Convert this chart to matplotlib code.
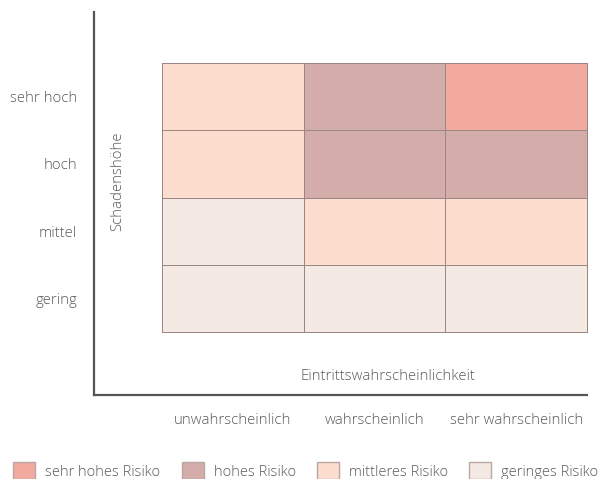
import numpy as np
import matplotlib.pyplot as plt
from matplotlib.colors import ListedColormap
from matplotlib.patches import Patch

plt.rcParams["font.family"] = ["Open Sans", "DejaVu Sans"]
plt.rcParams["font.weight"] = "light"

# risk categories (0 = gering ... 3 = sehr hoch)
risk_labels = ["geringes Risiko", "mittleres Risiko", "hohes Risiko", "sehr hohes Risiko"]
risk_colors = ["#F5E9E3", "#FCDDCE", "#D4ACAA", "#F2AA9F"]

prob_labels = ["unwahrscheinlich", "wahrscheinlich", "sehr wahrscheinlich"]
damage_labels = ["gering", "mittel", "hoch", "sehr hoch"]  # bottom -> top

# rows bottom -> top, columns = probability
risk_matrix = np.array([
    [0, 0, 0],
    [0, 1, 1],
    [1, 2, 2],
    [1, 2, 3],
])

W, H = 601, 479
fig = plt.figure(figsize=(W / 100, H / 100), dpi=100)
# axes frame in pixels: x 94..587, y 12..395
ax = fig.add_axes([94 / W, 1 - 395 / H, (587 - 94) / W, (395 - 12) / H])

cmap = ListedColormap(risk_colors)
mesh = ax.pcolormesh(np.arange(4), np.arange(5), risk_matrix, cmap=cmap,
                     vmin=-0.5, vmax=3.5, edgecolors="#9a8783", linewidth=0.7)
mesh.set_clip_on(False)

col_w = (587 - 162) / 3
row_h = (332 - 63) / 4
ax.set_xlim(-(162 - 94) / col_w, 3)
ax.set_ylim(-(395 - 332) / row_h, 4 + (63 - 12) / row_h)

for s in ["top", "right"]:
    ax.spines[s].set_visible(False)
for s in ["left", "bottom"]:
    ax.spines[s].set_color("#555555")
    ax.spines[s].set_linewidth(1.6)

tc = "#595959"
fs = 10.7
ax.set_xticks(np.arange(3) + 0.5, prob_labels)
ax.set_yticks(np.arange(4) + 0.5, damage_labels)
ax.tick_params(axis="x", length=0, pad=13, labelsize=fs, labelcolor=tc)
ax.tick_params(axis="y", length=0, pad=12, labelsize=fs, labelcolor=tc)

ax.text((118 - 94) / (587 - 94), (395 - 181) / (395 - 12), "Schadenshöhe",
        transform=ax.transAxes, rotation=90, ha="center", va="center",
        fontsize=fs, color=tc)
ax.text((388 - 162) / col_w, -(377 - 332) / row_h, "Eintrittswahrscheinlichkeit",
        ha="center", va="center", fontsize=fs, color=tc)

handles = [Patch(facecolor=risk_colors[i], edgecolor="#b9a7a2", label=risk_labels[i])
           for i in [3, 2, 1, 0]]
fig.legend(handles=handles, loc="center", bbox_to_anchor=(0.509, 1 - 471 / H),
           ncol=4, frameon=False, fontsize=10.5, labelcolor=tc,
           handlelength=1.5, handleheight=1.4, handletextpad=0.7,
           columnspacing=1.45, borderaxespad=0)

fig.savefig("out.png", dpi=100)
